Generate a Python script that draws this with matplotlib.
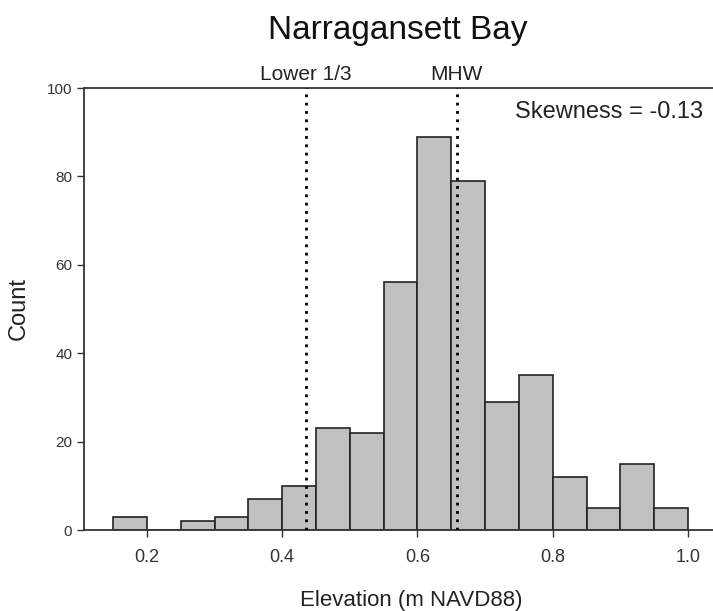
import numpy as np
import matplotlib
matplotlib.use('Agg')
import matplotlib.pyplot as plt

plt.rcParams['font.family'] = ['Liberation Sans', 'DejaVu Sans']

# histogram data (bin left edges, width 0.05)
bin_left = [0.15, 0.20, 0.25, 0.30, 0.35, 0.40, 0.45, 0.50, 0.55,
            0.60, 0.65, 0.70, 0.75, 0.80, 0.85, 0.90, 0.95]
counts = [3, 0, 2, 3, 7, 10, 23, 22, 56, 89, 79, 29, 35, 12, 5, 15, 5]
bin_width = 0.05

lower_third = 0.435
mhw = 0.658
skewness = -0.13

fig = plt.figure(figsize=(7.13, 6.11), dpi=100)
ax = fig.add_axes([84 / 713, 1 - 530 / 611, 629 / 713, 442 / 611])

ax.bar(bin_left, counts, width=bin_width, align='edge',
       color='#c0c0c0', edgecolor='#222222', linewidth=1.2, zorder=2)

for xv, lab in [(lower_third, 'Lower 1/3'), (mhw, 'MHW')]:
    ax.axvline(xv, color='black', linestyle=(0, (1, 2)), linewidth=2, zorder=3)
    ax.text(xv, 101.0, lab, ha='center', va='bottom', fontsize=15, color='#222222')

ax.text(0.984, 0.97, 'Skewness = %.2f' % skewness, transform=ax.transAxes,
        ha='right', va='top', fontsize=17, color='#222222')

ax.set_xlim(0.107, 1.037)
ax.set_ylim(0, 100)
ax.set_xticks([0.2, 0.4, 0.6, 0.8, 1.0])
ax.set_xticklabels(['0.2', '0.4', '0.6', '0.8', '1.0'])
ax.set_yticks([0, 20, 40, 60, 80, 100])

ax.spines['right'].set_visible(False)
for s in ['left', 'top', 'bottom']:
    ax.spines[s].set_color('#333333')
    ax.spines[s].set_linewidth(1.3)
ax.tick_params(direction='out', length=5, width=1, colors='#333333', labelsize=11)
ax.tick_params(axis='x', pad=9, labelsize=13)

ax.set_xlabel('Elevation (m NAVD88)', fontsize=16, color='#222222')
ax.xaxis.set_label_coords(0.52, -0.135)
ax.set_ylabel('Count', fontsize=17, labelpad=12, color='#222222')
fig.text(398 / 713, 1 - 30 / 611, 'Narragansett Bay', ha='center', va='center',
         fontsize=24, color='#111111')

fig.savefig('out.png', dpi=100)
